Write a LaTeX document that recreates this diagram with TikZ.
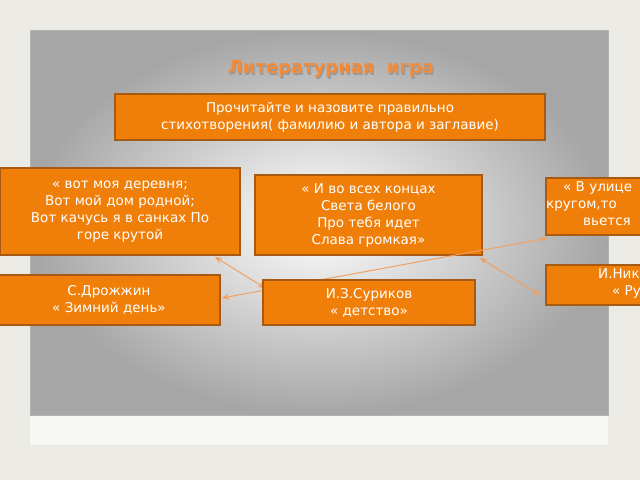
\documentclass[tikz,border=0pt]{standalone}
\usepackage{fontspec}
\setmainfont{DejaVu Sans}
\usetikzlibrary{arrows.meta}
\definecolor{pagebg}{HTML}{ECEAE4}
\definecolor{boxfill}{HTML}{F07F09}
\definecolor{boxline}{HTML}{A85A12}
\definecolor{titlecol}{HTML}{F28B3A}
\definecolor{arr}{HTML}{F2A060}
\begin{document}
\begin{tikzpicture}[x=1pt,y=-1pt,
  obox/.style={draw=boxline,line width=1.5pt,fill=boxfill,text=white,align=center,inner sep=0pt,font=\fontsize{13.5}{17}\selectfont},
  clipt/.style={text=white,anchor=north west,align=left,inner sep=0pt,font=\fontsize{13.5}{17}\selectfont},
  link/.style={draw=arr,line width=1pt,{Stealth[length=7pt,width=6pt]}-{Stealth[length=7pt,width=6pt]}}]
\useasboundingbox (0,0) rectangle (640,480);
\clip (0,0) rectangle (640,480);
\fill[pagebg] (0,0) rectangle (640,480);
\fill[white!60!pagebg] (30,415) rectangle (608,445);
\shade[inner color=white,outer color=black!35] (30,30) rectangle (608,415);
\draw[black!30,line width=0.5pt] (30,30) rectangle (608,415);
\node[text=black!40] at (332,71) {\fontsize{18}{20}\selectfont\bfseries Литературная\ \ игра};
\node (title) at (331,69) {\fontsize{18}{20}\selectfont\bfseries\color{titlecol}Литературная\ \ игра};
\node[obox,minimum width=430,minimum height=46] (top) at (330,117) {Прочитайте и назовите правильно\\стихотворения( фамилию и автора и заглавие)};
\node[obox,minimum width=240,minimum height=87] (b1) at (120,211.5) {« вот моя деревня;\\Вот мой дом родной;\\Вот качусь я в санках По\\горе крутой};
\node[obox,minimum width=227,minimum height=80] (b2) at (368.5,215) {« И во всех концах\\Света белого\\Про тебя идет\\Слава громкая»};
\node[obox,minimum width=120,minimum height=57,anchor=west] (b3) at (545,206.5) {};
\node[clipt] (b3t) at (546,181) {\hspace*{17pt}« В улице\\кругом,то\\\hspace*{37pt}вьется};
\node[obox,minimum width=120,minimum height=40,anchor=west] (b4) at (545,285) {};
\node[clipt] (b4t) at (598,268) {И.Никитин\\\hspace*{14pt}« Русь»};
\node[obox,minimum width=222,minimum height=50] (dr) at (109,300) {С.Дрожжин\\« Зимний день»};
\draw[link] (215,257) -- (265,288);
\draw[link] (222,298) -- (548,238);
\draw[link] (480,258) -- (540,295);
\node[obox,minimum width=212,minimum height=45] (su) at (369,302.5) {И.З.Суриков\\« детство»};
\end{tikzpicture}
\end{document}
